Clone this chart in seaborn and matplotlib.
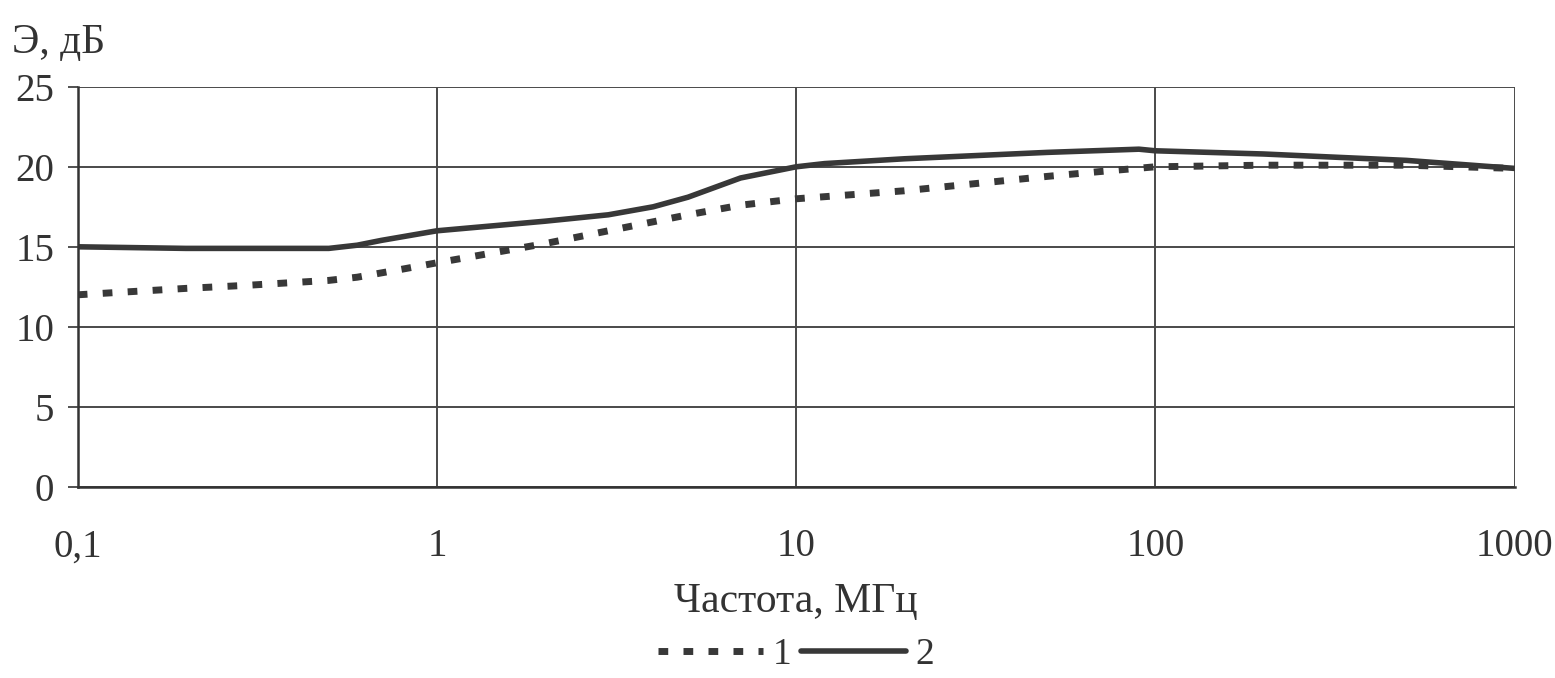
import numpy as np
import pandas as pd
import matplotlib
matplotlib.use("Agg")
import matplotlib.pyplot as plt
from matplotlib.ticker import FixedLocator, FuncFormatter, NullLocator
import seaborn as sns

# Frequency grid, MHz
freq_1 = [0.1, 0.2, 0.3, 0.5, 0.6, 0.8, 1, 2, 3, 5, 7, 10, 20, 30, 50, 70, 100, 200, 500, 1000]
# Shielding efficiency, dB — curve 1
eff_1 = [12.0, 12.4, 12.6, 12.9, 13.1, 13.6, 14.0, 15.2, 16.0, 17.0, 17.6, 18.0, 18.5, 18.9, 19.4, 19.7, 20.0, 20.1, 20.1, 19.9]

freq_2 = [0.1, 0.2, 0.3, 0.5, 0.6, 0.7, 1, 2, 3, 4, 5, 7, 10, 12, 20, 50, 90, 100, 200, 500, 1000]
# Shielding efficiency, dB — curve 2
eff_2 = [15.0, 14.9, 14.9, 14.9, 15.1, 15.4, 16.0, 16.6, 17.0, 17.5, 18.1, 19.3, 20.0, 20.2, 20.5, 20.9, 21.1, 21.0, 20.8, 20.4, 19.9]

series_labels = ["1", "2"]
x_ticks = [0.1, 1, 10, 100, 1000]
y_ticks = [0, 5, 10, 15, 20, 25]

df1 = pd.DataFrame({"f": freq_1, "e": eff_1})
df2 = pd.DataFrame({"f": freq_2, "e": eff_2})

sns.set_theme(style="white")
plt.rcParams["font.family"] = ["Liberation Serif", "DejaVu Serif"]

fig = plt.figure(figsize=(15.55, 6.78), dpi=100)
ax = fig.add_axes([0.050, 0.282, 0.924, 0.590])
ax.set_xscale("log")

line_color = "#383838"
text_color = "#333333"
sns.lineplot(data=df1, x="f", y="e", ax=ax, color=line_color, lw=5.0,
             label=series_labels[0], sort=True)
sns.lineplot(data=df2, x="f", y="e", ax=ax, color=line_color, lw=4.0,
             label=series_labels[1], sort=True)
ax.lines[0].set_linestyle((0, (1.4, 2.2)))
ax.lines[0].set_dash_capstyle("butt")

ax.set_xlim(0.1, 1000)
ax.set_ylim(0, 25)
ax.xaxis.set_major_locator(FixedLocator(x_ticks))
ax.xaxis.set_minor_locator(NullLocator())
ax.yaxis.set_major_locator(FixedLocator(y_ticks))


def comma_fmt(v, pos):
    if v < 1:
        return f"{v:g}".replace(".", ",")
    return f"{int(round(v))}"


ax.xaxis.set_major_formatter(FuncFormatter(comma_fmt))
ax.grid(True, color="#4a4a4a", lw=1.4)
for side in ["top", "right"]:
    ax.spines[side].set_visible(False)
for side in ["left", "bottom"]:
    ax.spines[side].set_color("#333333")
    ax.spines[side].set_linewidth(1.8)

ax.tick_params(axis="both", labelsize=28, colors=text_color, length=7, width=1.2,
               direction="out", left=True, bottom=True)
ax.tick_params(axis="x", pad=30, length=0)
ax.tick_params(axis="y", pad=10)

ax.set_xlabel("Частота, МГц", fontsize=30, color=text_color, labelpad=12)
ax.set_ylabel("")
fig.text(0.008, 0.937, "Э, дБ", fontsize=30, color=text_color, ha="left", va="center")

leg = ax.legend(loc="center", bbox_to_anchor=(0.5, -0.42), ncol=2, frameon=False,
                fontsize=27, handlelength=2.8, handletextpad=0.25, columnspacing=0.25,
                labelcolor=text_color, borderaxespad=0, borderpad=0.1)

fig.savefig("out.png", dpi=100, facecolor="white")
